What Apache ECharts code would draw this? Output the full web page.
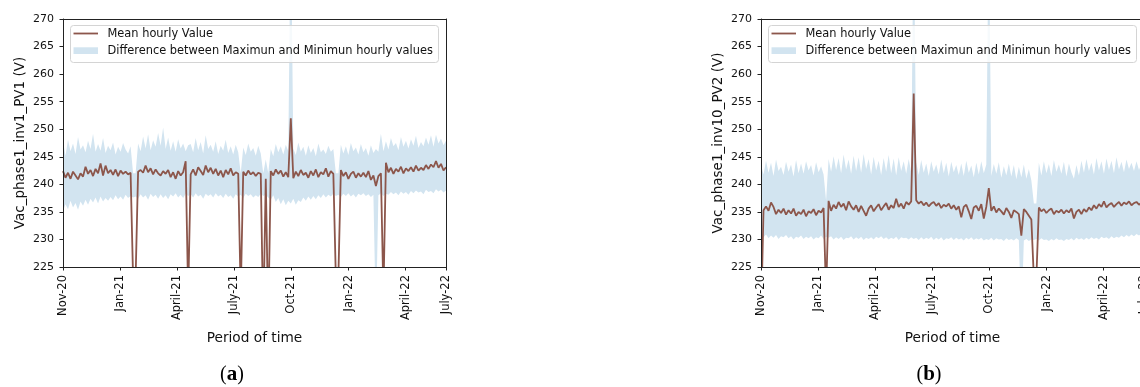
<!DOCTYPE html>
<html>
<head>
<meta charset="utf-8">
<script src="https://cdn.jsdelivr.net/npm/echarts@6/dist/echarts.min.js"></script>
<style>
  html, body { margin: 0; padding: 0; background: #fff; }
  #chart { width: 1140px; height: 387px; }
</style>
</head>
<body>
<div id="chart"></div>
<script>
// Samples are taken every 4 days from the start of the period.
const DAY_STEP = 4;
const DAY_END = 612;
const QUARTER = 91.25;
const tickLabels = ['Nov-20', 'Jan-21', 'April-21', 'July-21', 'Oct-21', 'Jan-22', 'April-22', 'July-22'];

// Inverter 1, PV1: hourly voltage statistics (V)
const meanPV1 = [
  242.4, 241.2, 242.1, 241.0, 242.3, 241.6, 240.9, 242.0, 241.4, 243.2,
  241.9, 242.6, 241.5, 242.8, 242.0, 243.8, 241.6, 243.4, 242.0, 242.6,
  241.7, 242.7, 241.5, 242.5, 241.9, 242.3, 241.8, 242.1, 223, 223,
  242.3, 242.6, 242.1, 243.4, 242.2, 242.9, 241.8, 242.7, 242.0, 241.6,
  242.4, 241.9, 242.6, 241.3, 242.2, 241.0, 242.4, 241.6, 242.2, 244.2,
  220, 241.8, 242.7, 241.6, 243.1, 242.4, 241.7, 243.4, 242.2, 243.0,
  241.9, 242.8, 241.6, 242.5, 241.3, 242.6, 241.8, 242.9, 241.6, 242.2,
  241.9, 220, 242.3, 241.6, 242.5, 241.8, 242.2, 241.5, 242.1, 241.9,
  215, 241, 215, 242.4, 241.6, 242.7, 241.9, 242.5, 241.4, 242.2,
  241.3, 252.0, 241.1, 242.3, 241.5, 242.6, 241.7, 242.1, 241.2, 242.4,
  241.6, 242.7, 241.3, 242.2, 241.8, 242.9, 241.4, 242.4, 241.9, 223,
  223, 242.6, 241.5, 242.2, 241.0, 241.9, 242.3, 241.2, 242.0, 241.4,
  242.1, 241.3, 242.4, 240.8, 241.6, 239.7, 241.5, 242.0, 220, 243.9,
  242.2, 243.0, 241.9, 242.8, 242.3, 243.2, 242.0, 242.9, 242.4, 243.1,
  242.3, 243.4, 242.5, 243.0, 242.6, 243.5, 242.8, 243.6, 243.1, 244.2,
  243.0, 243.7, 242.5, 243.1
];
const maxPV1 = [
  247.8, 245.2, 248.1, 246.0, 247.4, 245.5, 248.6, 246.3, 247.1, 245.8,
  247.9, 246.4, 249.2, 245.9, 247.3, 246.1, 248.4, 245.7, 247.0, 246.2,
  247.6, 245.4, 246.8, 245.9, 247.5, 246.3, 245.6, 246.9, 242.0, 242.0,
  247.4, 246.0, 248.7, 246.5, 249.1, 246.2, 248.0, 246.8, 249.3, 247.0,
  250.3, 246.4, 248.5, 246.1, 247.8, 245.9, 248.2, 246.5, 247.4, 246.0,
  247.1, 247.3, 245.8, 248.4, 246.2, 247.7, 245.6, 248.9, 246.4, 247.2,
  245.9, 247.8, 245.5, 247.0, 246.1, 248.1, 245.7, 246.9, 245.4, 247.2,
  245.8, 242.0, 246.7, 245.3, 247.4, 245.9, 246.6, 245.2, 247.0, 245.6,
  242.0, 244.5, 242.0, 246.4, 245.1, 247.3, 245.8, 246.9, 245.4, 247.2,
  246.0, 290.0, 246.5, 245.3, 247.6, 245.9, 246.8, 245.2, 247.1, 245.7,
  246.6, 245.1, 247.4, 245.8, 246.3, 245.5, 247.0, 245.9, 246.4, 242.0,
  242.0, 247.2, 245.6, 246.9, 245.3, 247.5, 246.0, 246.7, 245.4, 247.3,
  245.8, 246.6, 245.2, 247.1, 245.7, 246.4, 245.9, 249.2, 246.0, 247.8,
  246.3, 248.4, 246.9, 247.5, 246.2, 248.6, 246.8, 247.9, 246.5, 248.2,
  247.0, 248.8, 246.6, 247.7, 246.9, 248.5, 247.2, 248.9, 246.8, 249.0,
  247.4, 248.3, 247.1, 247.9
];
const minPV1 = [
  235.2, 236.4, 235.5, 237.0, 235.8, 236.6, 235.4, 236.9, 236.1, 237.2,
  236.3, 237.4, 236.7, 237.6, 236.5, 237.8, 236.9, 237.5, 237.0, 237.7,
  237.1, 238.0, 237.3, 237.8, 237.2, 238.1, 237.5, 237.9, 237.6, 237.8,
  237.4, 238.2, 237.6, 238.0, 237.2, 238.3, 237.7, 238.1, 237.4, 238.2,
  237.5, 238.0, 237.3, 238.2, 237.8, 238.4, 237.6, 238.1, 237.5, 238.3,
  237.9, 238.2, 237.6, 238.4, 237.8, 238.1, 237.4, 238.3, 237.9, 238.2,
  237.6, 238.4, 237.8, 238.1, 237.5, 238.3, 237.7, 238.0, 237.4, 238.2,
  237.8, 238.1, 237.5, 238.3, 237.9, 238.2, 237.6, 238.0, 237.7, 238.3,
  237.9, 238.1, 237.6, 237.2, 238.0, 236.8, 237.5, 236.4, 237.3, 236.2,
  237.0, 236.5, 237.4, 236.3, 237.1, 236.8, 237.6, 237.0, 237.8, 237.2,
  237.9, 237.3, 238.0, 237.5, 238.2, 237.6, 238.1, 237.8, 238.3, 237.9,
  238.1, 237.7, 238.3, 237.9, 238.4, 237.8, 238.2, 237.6, 238.3, 238.0,
  238.4, 237.9, 238.2, 237.7, 238.1, 215.0, 238.0, 238.4, 237.9, 238.3,
  238.1, 238.6, 238.2, 238.5, 238.0, 238.7, 238.3, 238.6, 238.1, 238.8,
  238.4, 238.9, 238.5, 238.7, 238.2, 239.0, 238.6, 238.8, 238.4, 239.1,
  238.7, 239.0, 238.5, 238.9
];

// Inverter 10, PV2: hourly voltage statistics (V)
const meanPV2 = [
  215, 235.3, 236.0, 235.2, 236.7, 235.9, 234.6, 235.4, 234.8, 235.6,
  234.5, 235.3, 234.7, 235.6, 234.3, 235.0, 234.6, 235.4, 234.2, 235.1,
  234.8, 235.5, 234.4, 235.2, 234.9, 235.7, 220, 237.0, 235.2, 236.3,
  235.6, 236.8, 235.9, 236.5, 235.3, 236.9, 236.0, 235.4, 236.2, 235.0,
  236.1, 235.2, 234.3, 235.6, 236.2, 235.1, 235.8, 236.4, 235.3, 236.0,
  236.6, 235.4, 236.2, 235.7, 237.4, 235.9, 236.5, 235.6, 236.8, 236.3,
  236.9, 256.5, 237.1, 236.5, 236.9, 236.2, 236.7, 236.0, 236.5, 236.8,
  236.1, 236.6, 235.7, 236.3, 236.0, 236.5, 235.6, 236.2, 235.4, 236.0,
  234.0, 235.9, 236.3, 235.1, 233.7, 235.8, 236.1, 235.2, 236.4, 233.8,
  235.9, 239.3, 235.2, 236.0, 234.9, 235.6, 235.1, 234.5, 235.7, 235.0,
  233.9, 235.3, 235.0, 234.6, 230.7, 235.5, 235.0, 234.3, 233.6, 223,
  223, 235.8, 235.1, 235.5, 234.8, 235.3, 235.6, 234.6, 235.2, 234.9,
  235.4, 234.7, 235.3, 234.9, 235.6, 233.8, 235.0, 235.4, 234.6, 235.5,
  235.0, 235.8, 235.3, 236.2, 235.6, 236.4, 235.9, 236.9, 235.8, 236.3,
  236.6, 235.9, 236.4, 236.8, 236.1, 236.7, 236.4, 236.9, 236.2, 236.6,
  236.8, 236.3, 236.7, 236.5
];
const maxPV2 = [
  243.6, 241.8, 244.3, 242.1, 243.9, 241.5, 244.5, 242.4, 243.2, 241.7,
  244.1, 242.3, 243.6, 241.4, 244.4, 242.0, 243.8, 241.9, 244.2, 242.5,
  243.5, 241.6, 244.0, 242.2, 243.3, 241.8, 237.0, 244.6, 242.3, 245.1,
  242.6, 244.8, 242.0, 245.4, 242.7, 244.5, 241.9, 245.2, 242.4, 244.9,
  242.1, 245.5, 242.8, 244.6, 241.8, 245.0, 242.5, 244.3, 241.7, 244.8,
  242.3, 245.3, 242.0, 244.7, 241.6, 244.9, 242.4, 244.2, 241.9, 244.6,
  242.2, 290.0, 244.0, 241.7, 244.4, 242.1, 243.8, 241.5, 244.2, 242.3,
  243.6, 241.8, 244.5, 242.0, 243.9, 241.4, 244.1, 242.2, 243.5, 241.7,
  243.8, 241.5, 244.3, 242.1, 243.4, 241.3, 243.9, 241.8, 244.2, 242.0,
  243.6, 290.0, 241.5, 243.7, 241.9, 244.0, 241.2, 243.3, 241.6, 243.8,
  241.4, 243.5, 240.9, 243.2, 241.3, 243.6, 241.0, 242.8, 240.7, 236.5,
  236.5, 243.9, 241.6, 244.2, 242.0, 243.7, 241.5, 244.4, 242.3, 243.6,
  241.9, 244.1, 241.4, 243.8, 242.2, 241.0, 243.5, 241.6, 244.3, 242.1,
  244.6, 242.4, 243.9, 241.8, 244.8, 242.5, 244.2, 241.9, 244.7, 242.6,
  244.3, 242.0, 244.9, 242.7, 244.1, 242.2, 244.5, 242.8, 243.9, 242.4,
  244.2, 242.6, 243.8, 242.3
];
const minPV2 = [
  231.0, 230.4, 230.9, 230.2, 230.7, 230.3, 230.8, 230.1, 230.6, 230.4,
  230.8, 230.2, 230.6, 230.0, 230.5, 230.3, 230.7, 230.1, 230.5, 230.2,
  230.6, 230.0, 230.4, 230.2, 230.7, 230.1, 230.5, 230.3, 230.6, 230.0,
  230.4, 230.1, 230.5, 229.9, 230.3, 230.2, 230.6, 230.0, 230.4, 230.1,
  230.5, 229.9, 230.3, 230.1, 230.4, 230.0, 230.5, 230.2, 230.6, 230.1,
  230.4, 230.0, 230.3, 230.1, 230.5, 229.9, 230.4, 230.2, 230.3, 230.0,
  230.4, 230.1, 230.3, 229.9, 230.4, 230.0, 230.3, 230.1, 230.5, 229.9,
  230.3, 230.0, 230.4, 229.8, 230.2, 230.1, 230.4, 229.9, 230.3, 230.0,
  230.2, 229.8, 230.3, 230.0, 230.4, 229.9, 230.2, 230.0, 230.3, 229.8,
  230.1, 229.9, 230.3, 229.8, 230.2, 230.0, 230.1, 229.7, 230.2, 229.9,
  230.1, 229.8, 230.2, 229.9, 215.0, 229.8, 230.1, 229.7, 230.0, 229.9,
  230.1, 229.8, 230.2, 229.9, 230.0, 229.7, 230.1, 229.8, 230.2, 229.9,
  230.0, 229.7, 230.1, 229.9, 230.2, 229.8, 230.3, 230.0, 230.2, 229.9,
  230.3, 230.0, 230.4, 230.1, 230.3, 230.0, 230.5, 230.2, 230.4, 230.1,
  230.6, 230.2, 230.5, 230.3, 230.7, 230.4, 230.8, 230.5, 230.9, 230.6,
  231.0, 230.7, 231.1, 230.9
];

const MEAN_NAME = 'Mean hourly Value';
const BAND_NAME = 'Difference between Maximun and Minimun hourly values';
const MEAN_COLOR = '#8c564b';
const BAND_COLOR = '#d2e4f0';
const AXIS_COLOR = '#222';
const TEXT_COLOR = '#111';
const FONT = 'DejaVu Sans';

const toPairs = arr => arr.map((v, i) => [i * DAY_STEP, v]);

const panels = [
  { yName: 'Vac_phase1_inv1_PV1 (V)', left: 63, mean: meanPV1, max: maxPV1, min: minPV1, letter: 'a', letterX: 232 },
  { yName: 'Vac_phase1_inv10_PV2 (V)', left: 761, mean: meanPV2, max: maxPV2, min: minPV2, letter: 'b', letterX: 929 }
];

const GRID_TOP = 19, GRID_W = 383, GRID_H = 248;

const xLabel = v => (v >= DAY_END - 20 ? tickLabels[tickLabels.length - 1] : tickLabels[Math.round(v / QUARTER)]);

const grids = [], xAxes = [], yAxes = [], series = [], graphics = [];

panels.forEach((p, k) => {
  grids.push({ left: p.left, top: GRID_TOP, width: GRID_W, height: GRID_H, containLabel: false, outerBoundsMode: 'none' });

  xAxes[k] = {
    gridIndex: k, type: 'value', min: 0, max: DAY_END, interval: QUARTER, position: 'bottom', z: 5,
    axisLine: { show: true, onZero: false, lineStyle: { color: AXIS_COLOR, width: 1 } },
    axisTick: { show: true, length: 3.5, lineStyle: { color: AXIS_COLOR, width: 1 } },
    splitLine: { show: false },
    axisLabel: { rotate: 90, margin: 8, fontSize: 11.5, color: TEXT_COLOR, fontFamily: FONT,
                 showMinLabel: true, showMaxLabel: true, hideOverlap: false, formatter: xLabel },
    name: 'Period of time', nameLocation: 'middle', nameGap: 64,
    nameTextStyle: { fontSize: 13.7, color: TEXT_COLOR, fontFamily: FONT }
  };
  // top spine
  xAxes[k + 2] = {
    gridIndex: k, type: 'value', min: 0, max: DAY_END, position: 'top', z: 5,
    axisLine: { show: true, onZero: false, lineStyle: { color: AXIS_COLOR, width: 1 } },
    axisTick: { show: false }, axisLabel: { show: false }, splitLine: { show: false }
  };

  yAxes[k] = {
    gridIndex: k, type: 'value', min: 225, max: 270, interval: 5, position: 'left', z: 5,
    axisLine: { show: true, onZero: false, lineStyle: { color: AXIS_COLOR, width: 1 } },
    axisTick: { show: true, length: 3.5, lineStyle: { color: AXIS_COLOR, width: 1 } },
    splitLine: { show: false },
    axisLabel: { margin: 9, fontSize: 11, color: TEXT_COLOR, fontFamily: FONT },
    name: p.yName, nameLocation: 'middle', nameGap: 36,
    nameTextStyle: { fontSize: 13.5, color: TEXT_COLOR, fontFamily: FONT }
  };
  // right spine
  yAxes[k + 2] = {
    gridIndex: k, type: 'value', min: 225, max: 270, position: 'right', z: 5,
    axisLine: { show: true, onZero: false, lineStyle: { color: AXIS_COLOR, width: 1 } },
    axisTick: { show: false }, axisLabel: { show: false }, splitLine: { show: false }
  };

  // band: max filled down to the axis, min filled white on top of it
  series.push({
    type: 'line', name: BAND_NAME, xAxisIndex: k, yAxisIndex: k, data: toPairs(p.max),
    symbol: 'none', lineStyle: { width: 0, opacity: 0 },
    areaStyle: { color: BAND_COLOR, opacity: 1, origin: 'start' }, silent: true, z: 2
  });
  series.push({
    type: 'line', name: 'min-' + k, xAxisIndex: k, yAxisIndex: k, data: toPairs(p.min),
    symbol: 'none', lineStyle: { width: 0, opacity: 0 },
    areaStyle: { color: '#ffffff', opacity: 1, origin: 'start' }, silent: true, z: 2
  });
  series.push({
    type: 'line', name: MEAN_NAME, xAxisIndex: k, yAxisIndex: k, data: toPairs(p.mean),
    symbol: 'none', lineStyle: { color: MEAN_COLOR, width: 1.8 }, silent: true, z: 3
  });

  // legend box
  const lx = p.left + 7, ly = 25;
  graphics.push({
    type: 'rect', z: 100, shape: { x: lx + 0.5, y: ly + 0.5, width: 368, height: 37, r: 3 },
    style: { fill: 'rgba(255,255,255,0.8)', stroke: '#d4d4d4', lineWidth: 1 }
  });
  graphics.push({
    type: 'line', z: 101, shape: { x1: lx + 3.5, y1: ly + 8.5, x2: lx + 28, y2: ly + 8.5 },
    style: { stroke: MEAN_COLOR, lineWidth: 1.8 }
  });
  graphics.push({
    type: 'rect', z: 101, shape: { x: lx + 3.5, y: ly + 22.3, width: 24.5, height: 6.7 },
    style: { fill: BAND_COLOR }
  });
  graphics.push({
    type: 'text', z: 101, x: lx + 37.5, y: ly + 8.8,
    style: { text: MEAN_NAME, font: '11.4px "DejaVu Sans"', fill: TEXT_COLOR, verticalAlign: 'middle' }
  });
  graphics.push({
    type: 'text', z: 101, x: lx + 37.5, y: ly + 25.8,
    style: { text: BAND_NAME, font: '11.4px "DejaVu Sans"', fill: TEXT_COLOR, verticalAlign: 'middle' }
  });

  // panel letter
  graphics.push({
    type: 'text', z: 101, x: p.letterX, y: 375,
    style: {
      text: '{p|(}{b|' + p.letter + '}{p|)}',
      align: 'center', verticalAlign: 'middle',
      rich: {
        p: { font: '20px "Liberation Serif"', fill: '#000' },
        b: { font: 'bold 21px "Liberation Serif"', fill: '#000' }
      }
    }
  });
});

const chart = echarts.init(document.getElementById('chart'), null, { renderer: 'canvas' });
chart.setOption({
  animation: false,
  backgroundColor: '#ffffff',
  grid: grids,
  xAxis: xAxes,
  yAxis: yAxes,
  series: series,
  graphic: graphics
});
</script>
</body>
</html>
